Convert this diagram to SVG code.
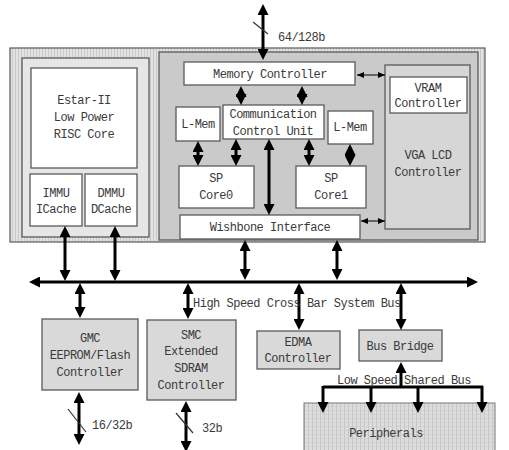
<svg xmlns="http://www.w3.org/2000/svg" width="509" height="450" viewBox="0 0 509 450">
<style>
  text { font-family: "Liberation Mono", "DejaVu Sans Mono", monospace; font-size: 12px; letter-spacing: -0.5px; fill: #3a3a3a; text-anchor: middle; }
  .st { text-anchor: start; }
  .w { fill: #ffffff; stroke: #5a5a5a; stroke-width: 1.3; }
  .g { fill: #d9d9d9; stroke: #5a5a5a; stroke-width: 1.3; }
  .big { stroke: #000; stroke-width: 3; fill: none; marker-start: url(#ah); marker-end: url(#ah); }
  .one { stroke: #000; stroke-width: 3; fill: none; marker-end: url(#ah); }
  .bus { stroke: #000; stroke-width: 3; fill: none; }
  .thin { stroke: #000; stroke-width: 1; fill: none; marker-start: url(#as); marker-end: url(#as); }
  .sl { stroke: #333; stroke-width: 1.2; }
</style>
<defs>
  <marker id="ah" viewBox="0 0 11 11" refX="4" refY="5.5" markerWidth="11" markerHeight="11" markerUnits="userSpaceOnUse" orient="auto-start-reverse">
    <path d="M0,0 L11,5.5 L0,11 z" fill="#000"/>
  </marker>
  <marker id="as" viewBox="0 0 7 6" refX="7" refY="3" markerWidth="7" markerHeight="6" markerUnits="userSpaceOnUse" orient="auto-start-reverse">
    <path d="M0,0 L7,3 L0,6 z" fill="#000"/>
  </marker>
  <pattern id="vh" width="3" height="3" patternUnits="userSpaceOnUse">
    <rect width="3" height="3" fill="#e2e2e2"/>
    <rect width="1" height="3" fill="#c8c8c8"/>
  </pattern>
  <pattern id="grid" width="4" height="4" patternUnits="userSpaceOnUse">
    <rect width="4" height="4" fill="#dedede"/>
    <rect width="1" height="4" fill="#c4c4c4"/>
    <rect width="4" height="1" y="2" fill="#d0d0d0"/>
  </pattern>
</defs>

<!-- containers -->
<g id="soc">
  <rect x="10" y="48" width="475" height="194" fill="url(#vh)" stroke="#666" stroke-width="1.3"/>
</g>
<g id="cpu-section">
  <rect x="22" y="58" width="127" height="179" fill="#e6e6e6" stroke="#5a5a5a" stroke-width="1.3"/>
</g>
<g id="gpu-section">
  <rect x="159" y="52" width="319" height="188" fill="#cacaca" stroke="#5a5a5a" stroke-width="1.3"/>
</g>

<g id="estar">
  <rect class="w" x="31" y="68" width="106" height="100"/>
  <text x="84" y="104">Estar-II</text>
  <text x="84" y="121">Low Power</text>
  <text x="84" y="138">RISC Core</text>
</g>
<g id="immu">
  <rect class="w" x="30" y="174" width="52" height="52"/>
  <text x="56" y="197">IMMU</text>
  <text x="56" y="213">ICache</text>
</g>
<g id="dmmu">
  <rect class="w" x="85" y="174" width="52" height="52"/>
  <text x="111" y="197">DMMU</text>
  <text x="111" y="213">DCache</text>
</g>

<g id="memctrl">
  <rect class="w" x="184" y="62" width="171" height="23"/>
  <text x="270" y="78">Memory Controller</text>
</g>
<g id="lmem0">
  <rect class="w" x="176" y="107" width="44" height="34"/>
  <text x="198" y="128">L-Mem</text>
</g>
<g id="ccu">
  <rect class="w" x="223" y="105" width="101" height="34"/>
  <text x="273" y="118">Communication</text>
  <text x="273" y="135">Control Unit</text>
</g>
<g id="lmem1">
  <rect class="w" x="328" y="111" width="45" height="33"/>
  <text x="350" y="131">L-Mem</text>
</g>
<g id="spcore0">
  <rect class="w" x="179" y="166" width="75" height="42"/>
  <text x="216" y="182">SP</text>
  <text x="216" y="199">Core0</text>
</g>
<g id="spcore1">
  <rect class="w" x="296" y="166" width="70" height="42"/>
  <text x="331" y="182">SP</text>
  <text x="331" y="199">Core1</text>
</g>
<g id="wishbone">
  <rect class="w" x="180" y="215" width="180" height="24"/>
  <text x="270" y="231">Wishbone Interface</text>
</g>
<g id="vga">
  <rect x="385" y="65" width="85" height="164" fill="#d6d6d6" stroke="#5a5a5a" stroke-width="1.3"/>
  <text x="428" y="159">VGA LCD</text>
  <text x="428" y="176">Controller</text>
</g>
<g id="vram">
  <rect class="w" x="390" y="77" width="77" height="36"/>
  <text x="428" y="92">VRAM</text>
  <text x="428" y="107">Controller</text>
</g>

<g id="gmc">
  <rect class="g" x="42" y="319" width="96" height="71"/>
  <text x="90" y="342">GMC</text>
  <text x="90" y="359">EEPROM/Flash</text>
  <text x="90" y="376">Controller</text>
</g>
<g id="smc">
  <rect class="g" x="147" y="320" width="89" height="80"/>
  <text x="191" y="339">SMC</text>
  <text x="191" y="355">Extended</text>
  <text x="191" y="372">SDRAM</text>
  <text x="191" y="389">Controller</text>
</g>
<g id="edma">
  <rect class="g" x="257" y="331" width="83" height="38"/>
  <text x="298" y="346">EDMA</text>
  <text x="298" y="362">Controller</text>
</g>
<g id="busbridge">
  <rect class="g" x="359" y="330" width="83" height="31"/>
  <text x="400" y="350">Bus Bridge</text>
</g>
<g id="peripherals">
  <rect x="304" y="403" width="191" height="50" fill="url(#grid)" stroke="#777" stroke-width="1"/>
  <text x="386" y="437">Peripherals</text>
</g>

<g id="connectors">
  <!-- external memory port -->
  <line class="big" x1="263" y1="11" x2="263" y2="53"/>
  <line class="sl" x1="253" y1="22" x2="268" y2="34"/>
  <!-- internal GPU links -->
  <line class="thin" x1="357" y1="75" x2="385" y2="75"/>
  <line class="thin" x1="361" y1="221" x2="385" y2="221"/>
  <line class="big" x1="241" y1="93" x2="241" y2="98"/>
  <line class="big" x1="302" y1="93" x2="302" y2="98"/>
  <line class="big" x1="198" y1="148" x2="198" y2="159"/>
  <line class="big" x1="236" y1="146" x2="236" y2="159"/>
  <line class="big" x1="269" y1="146" x2="269" y2="208"/>
  <line class="big" x1="309" y1="146" x2="309" y2="159"/>
  <line class="big" x1="350" y1="151" x2="350" y2="159"/>
  <!-- to system bus -->
  <line class="big" x1="65" y1="233" x2="65" y2="274"/>
  <line class="big" x1="115" y1="233" x2="115" y2="274"/>
  <line class="big" x1="245" y1="247" x2="245" y2="273"/>
  <line class="big" x1="337" y1="247" x2="337" y2="273"/>
  <!-- system bus -->
  <line class="big" x1="36" y1="282" x2="471" y2="282"/>
  <line class="big" x1="80" y1="290" x2="80" y2="311"/>
  <line class="big" x1="188" y1="290" x2="188" y2="312"/>
  <line class="big" x1="299" y1="290" x2="299" y2="323"/>
  <line class="big" x1="401" y1="290" x2="401" y2="323"/>
  <!-- external ports -->
  <line class="big" x1="79" y1="399" x2="79" y2="438"/>
  <line class="sl" x1="68" y1="409" x2="86" y2="432"/>
  <line class="big" x1="186" y1="408" x2="186" y2="445"/>
  <line class="sl" x1="176" y1="413" x2="193" y2="433"/>
  <!-- low speed shared bus -->
  <line class="one" x1="401" y1="387" x2="401" y2="369"/>
  <line class="bus" x1="323" y1="387" x2="483" y2="387"/>
  <line class="one" x1="323" y1="386" x2="323" y2="406"/>
  <line class="one" x1="371" y1="386" x2="371" y2="406"/>
  <line class="one" x1="418" y1="386" x2="418" y2="406"/>
  <line class="one" x1="482" y1="386" x2="482" y2="406"/>
</g>

<g id="labels">
  <text class="st" x="278" y="41">64/128b</text>
  <text class="st" x="193" y="307">High Speed Cross Bar System Bus</text>
  <text class="st" x="337" y="384">Low Speed Shared Bus</text>
  <text class="st" x="92" y="429">16/32b</text>
  <text class="st" x="202" y="432">32b</text>
</g>
</svg>
